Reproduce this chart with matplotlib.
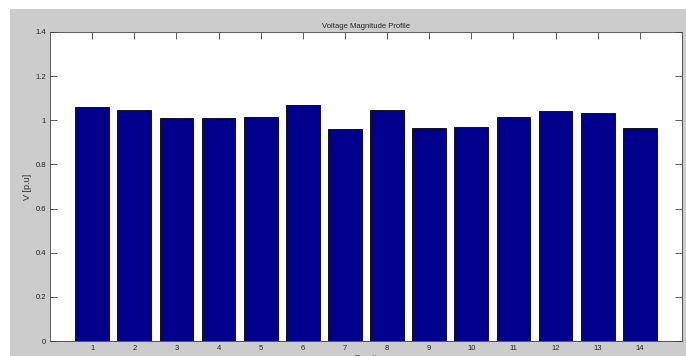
import matplotlib.pyplot as plt
from matplotlib.patches import Rectangle
import numpy as np

plt.rcParams['font.family'] = ['Liberation Sans', 'DejaVu Sans']

buses = np.arange(1, 15)
voltage = [1.06, 1.045, 1.01, 1.009, 1.016, 1.07, 0.96, 1.045,
           0.966, 0.97, 1.013, 1.042, 1.032, 0.966]
yticks = [0, 0.2, 0.4, 0.6, 0.8, 1, 1.2, 1.4]
ytick_labels = ['0', '0.2', '0.4', '0.6', '0.8', '1', '1.2', '1.4']

fig = plt.figure(figsize=(6.86, 3.56), dpi=100, facecolor='white')
# grey window background, offset from the top-left corner
fig.patches.append(Rectangle((10 / 686, 0), 1, 1 - 9 / 356, transform=fig.transFigure,
                             facecolor='#cccccc', edgecolor='none', zorder=-10))

ax = fig.add_axes([50 / 686, 1 - 341 / 356, 632 / 686, 309 / 356])
ax.bar(buses, voltage, width=0.8, color='#00008c', edgecolor='black', lw=0.6, zorder=3)

ax.set_xlim(0, 15)
ax.set_ylim(0, 1.4)
ax.set_xticks(buses)
ax.set_xticklabels([str(b) for b in buses], fontsize=5.5)
ax.set_yticks(yticks)
ax.set_yticklabels(ytick_labels, fontsize=5.5)
ax.tick_params(direction='in', length=5, width=0.6, top=True, right=True,
               colors='#404040', labelcolor='#222222', pad=3)
for s in ax.spines.values():
    s.set_linewidth(0.6)
    s.set_color('#404040')

ax.set_title('Voltage Magnitude Profile', fontsize=5.5, pad=3, color='#222222')
ax.set_ylabel('V [p.u]', fontsize=6.5, labelpad=2, color='#333333')
ax.set_xlabel('Bus #', fontsize=6, labelpad=2, color='#333333')

plt.savefig('out.png', dpi=100, facecolor=fig.get_facecolor())
